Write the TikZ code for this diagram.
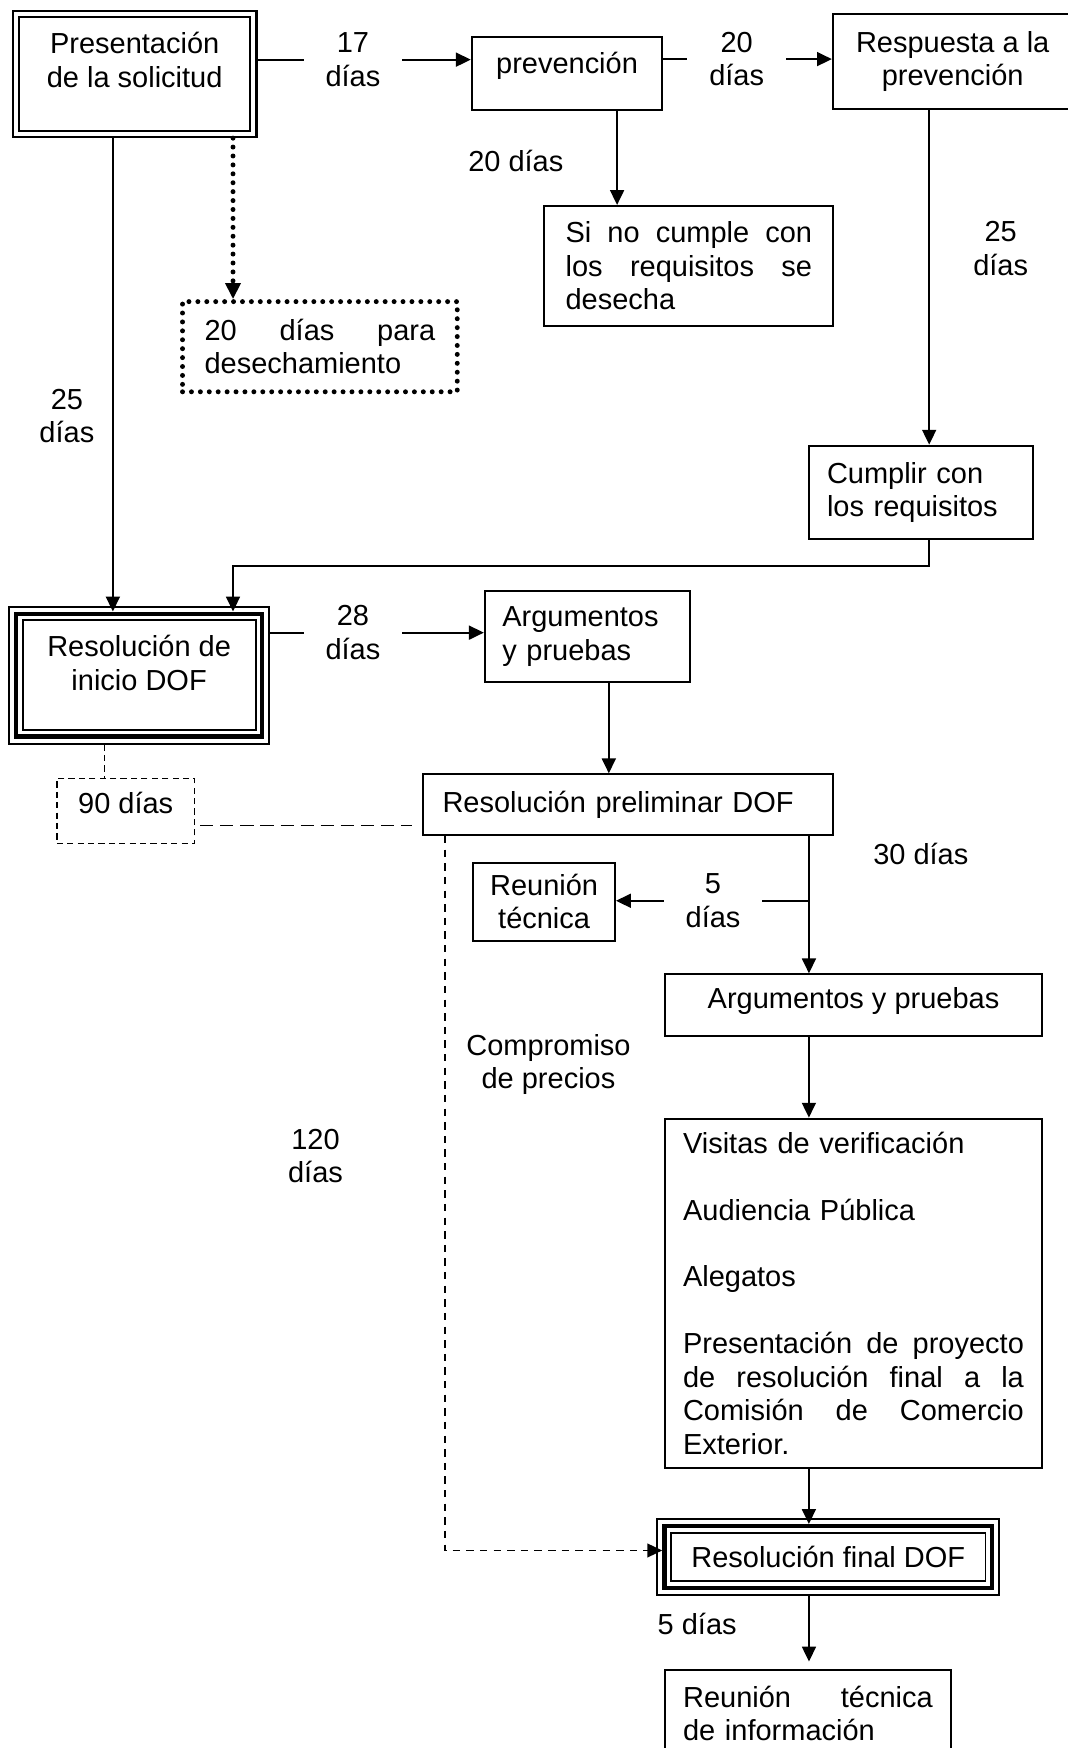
\documentclass[tikz,border=0pt]{standalone}
\usepackage{fontspec}
\setmainfont{Liberation Sans}
\usetikzlibrary{arrows.meta,fit}

\begin{document}
\begin{tikzpicture}[x=0.45pt,y=-0.45pt,line width=0.8pt,
  every node/.style={font=\fontsize{11.7}{13.5}\selectfont},
  box/.style={draw,line width=0.8pt,inner sep=0pt},
  lbl/.style={align=center,inner xsep=8.5pt,inner ysep=0pt},
  note/.style={align=center,inner sep=0pt},
  arr/.style={-{Triangle[length=6pt,width=5.6pt]}},
  dotline/.style={line width=2pt,line cap=round,dash pattern=on 0pt off 3.6pt},
  dashbox/.style={line width=0.6pt,dash pattern=on 2.5pt off 1.7pt},
  dashlong/.style={line width=0.7pt,dash pattern=on 5.3pt off 2.8pt},
  dashsmall/.style={line width=0.6pt,dash pattern=on 3pt off 2.5pt}]

  \path[use as bounding box,fill=white] (0,0) rectangle (958,1568);

  % top row
  \node[box,align=center,minimum width=93.4pt,minimum height=46.1pt] (pres) at (120.8,66.25) {Presentación\\de la solicitud\\[-2pt]\mbox{}};
  \node[draw,line width=1pt,inner sep=2pt,fit=(pres)] (pres2) {};
  \node[box,minimum width=76.9pt,minimum height=29.2pt,text height=9pt,text depth=9pt] (prev) at (508.65,66) {prevención};
  \node[box,align=center,minimum width=96.75pt,minimum height=38.4pt] (resp) at (854.6,55.3) {Respuesta a la\\prevención};
  \node[lbl] (l17) at (316.6,53.5) {17\\días};
  \node[lbl] (l20) at (660.8,53) {20\\días};

  \node[note] (n20) at (462.7,144) {20 días};
  \node[box,text width=99.5pt,align=left,minimum width=116.55pt,minimum height=48.5pt] (sino) at (617.9,238.65) {Si\hfill no\hfill cumple\hfill con\\los\hfill requisitos\hfill se\\desecha};
  \node[note] (n25b) at (897.6,223) {25\\días};
  \node[box,dotline,text width=93.1pt,align=left,minimum width=110.9pt,minimum height=36.4pt] (desech) at (286.95,311) {20\hfill días\hfill para\\desechamiento};
  \node[note] (n25a) at (60,373) {25\\días};
  \node[box,text width=75.7pt,align=left,minimum width=90.5pt,minimum height=37.8pt] (cumplir) at (825.95,441.8) {Cumplir con\\los requisitos};

  % resolucion de inicio
  \node[box,align=center,minimum width=94pt,minimum height=44.2pt] (inicio) at (124.8,605.65) {Resolución de\\inicio DOF\\[-3.6pt]\mbox{}};
  \node[draw,line width=1.8pt,inner sep=2.3pt,fit=(inicio)] (inicio2) {};
  \node[draw,line width=0.8pt,inner sep=5.1pt,fit=(inicio)] (inicio3) {};
  \node[lbl] (l28) at (316.6,567.5) {28\\días};
  \node[box,text width=68.6pt,align=left,minimum width=82.7pt,minimum height=36.7pt] (argu1) at (526.8,570.8) {Argumentos\\y pruebas};
  \node[box,text width=150pt,align=left,minimum width=165.5pt,minimum height=24.5pt] (prelim) at (563.65,721.8) {Resolución preliminar DOF};
  \node[box,dashbox,minimum width=55.6pt,minimum height=26.2pt,text height=9pt,text depth=7pt] (d90) at (112.75,727.35) {90 días};

  \node[note] (n30) at (826,766) {30 días};
  \node[box,align=center,minimum width=57.2pt,minimum height=31.5pt] (reu) at (488.1,808.8) {Reunión\\técnica};
  \node[lbl] (l5) at (639.6,808) {5\\días};
  \node[box,minimum width=152.2pt,minimum height=24.75pt,text height=9pt,text depth=6.3pt] (argu2) at (765.6,901.5) {Argumentos y pruebas};
  \node[note] (ncomp) at (492,955) {Compromiso\\de precios};
  \node[note] (n120) at (283,1037) {120\\días};
  \node[box,text width=137.6pt,align=left,minimum width=152.2pt,minimum height=140.9pt] (big) at (765.6,1160) {Visitas de verificación\\[13.5pt]Audiencia Pública\\[13.5pt]Alegatos\\[13.5pt]Presentación\hfill de\hfill proyecto\\de\hfill resolución\hfill final\hfill a\hfill la\\Comisión\hfill de\hfill Comercio\\Exterior.};

  % resolucion final
  \node[box,minimum width=126.9pt,minimum height=19.5pt] (fin) at (743,1396.7) {Resolución final DOF};
  \node[draw,line width=1.8pt,inner sep=2.3pt,fit=(fin)] (fin2) {};
  \node[draw,line width=0.8pt,inner sep=5.1pt,fit=(fin)] (fin3) {};
  \node[note] (n5) at (625.4,1457) {5 días};
  \node[box,text width=100.8pt,align=left,minimum width=115.4pt,minimum height=35.1pt] (reuinf) at (724.75,1537) {Reunión\hfill técnica\\de información};

  % connectors
  \draw (pres2.east |- l17.west) -- (l17.west);
  \draw[arr] (l17.east) -- (prev.west |- l17.east);
  \draw (prev.east |- l20.west) -- (l20.west);
  \draw[arr] (l20.east) -- (resp.west |- l20.east);
  \draw[arr] ([xshift=20.2pt]prev.south) -- ([xshift=20.2pt]prev.south |- sino.north);
  \draw[arr] ([xshift=-9.5pt]resp.south) -- ([xshift=-9.5pt]resp.south |- cumplir.north);
  \draw[arr] ([xshift=3.35pt]cumplir.south) -- ++(0,23) -| ([xshift=37.9pt]inicio2.north);
  \draw[arr] ([xshift=-8.8pt]pres2.south) -- ([xshift=-8.8pt]pres2.south |- inicio2.north);
  \draw[dotline,-{Triangle[length=6.5pt,width=6pt]}] ([xshift=39.7pt]pres2.south) -- ([xshift=39.7pt]pres2.south |- desech.north);

  \draw (inicio3.east |- l28.west) -- (l28.west);
  \draw[arr] (l28.east) -- (argu1.west |- l28.east);
  \draw[arr] ([xshift=8.7pt]argu1.south) -- ([xshift=8.7pt]argu1.south |- prelim.north);
  \draw[dashbox] ([xshift=-14pt]inicio3.south) -- ([xshift=-14pt]inicio3.south |- d90.north);
  \draw[dashlong,shorten <=2pt,shorten >=4pt] ([yshift=-5.9pt]d90.east) -- ([yshift=-5.9pt]d90.east -| prelim.west);

  \draw[arr] ([xshift=72.9pt]prelim.south) -- ([xshift=72.9pt]prelim.south |- argu2.north);
  \draw ([xshift=72.9pt]prelim.south |- l5.east) -- (l5.east);
  \draw[arr] (l5.west) -- (reu.east |- l5.west);
  \draw[arr,dashsmall] ([xshift=-74pt]prelim.south) |- ([yshift=2.65pt]fin2.west);
  \draw[arr] ([xshift=-18pt]argu2.south) -- ([xshift=-18pt]argu2.south |- big.north);
  \draw[arr] ([xshift=-18pt]big.south) -- ([xshift=-18pt]big.south |- fin2.north);
  \draw[arr,shorten >=3pt] ([xshift=-7.8pt]fin3.south) -- ([xshift=-7.8pt]fin3.south |- reuinf.north);
\end{tikzpicture}
\end{document}
